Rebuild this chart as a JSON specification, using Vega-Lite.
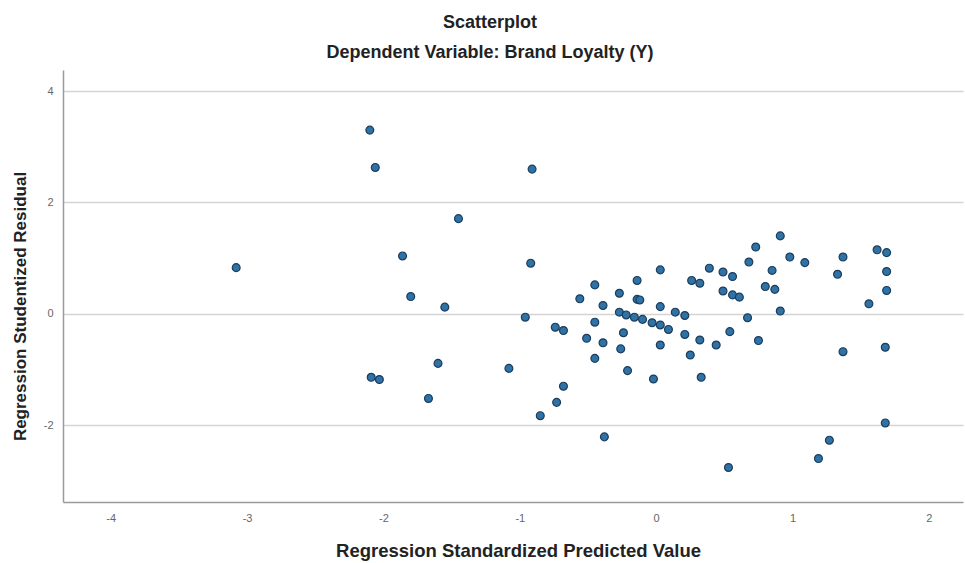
{
  "$schema": "https://vega.github.io/schema/vega-lite/v6.json",
  "autosize": "none",
  "width": 900,
  "height": 432,
  "padding": {"left": 63, "top": 70, "right": 2, "bottom": 61},
  "background": "white",
  "title": {
    "text": "Scatterplot",
    "subtitle": "Dependent Variable: Brand Loyalty (Y)",
    "anchor": "middle",
    "dx": -23,
    "offset": 8,
    "font": "Liberation Sans",
    "fontSize": 18,
    "fontWeight": "bold",
    "color": "#222222",
    "subtitleFont": "Liberation Sans",
    "subtitleFontSize": 18,
    "subtitleFontWeight": "bold",
    "subtitleColor": "#222222",
    "subtitlePadding": 12
  },
  "data": {"values": [
    {"x": -3.08, "y": 0.83}, {"x": -2.10, "y": 3.30}, {"x": -2.06, "y": 2.63}, {"x": -0.91, "y": 2.60},
    {"x": -1.45, "y": 1.71}, {"x": -1.86, "y": 1.04}, {"x": -0.92, "y": 0.91}, {"x": -1.80, "y": 0.31},
    {"x": -1.55, "y": 0.12}, {"x": -0.96, "y": -0.06}, {"x": -1.60, "y": -0.89}, {"x": -1.08, "y": -0.98},
    {"x": -2.09, "y": -1.14}, {"x": -2.03, "y": -1.18}, {"x": -1.67, "y": -1.52}, {"x": -0.74, "y": -0.24},
    {"x": -0.68, "y": -0.30}, {"x": -0.68, "y": -1.30}, {"x": -0.73, "y": -1.59}, {"x": -0.85, "y": -1.83},
    {"x": -0.38, "y": -2.21}, {"x": -0.56, "y": 0.27}, {"x": -0.45, "y": 0.52}, {"x": -0.14, "y": 0.60},
    {"x": -0.27, "y": 0.37}, {"x": -0.14, "y": 0.26}, {"x": -0.12, "y": 0.25}, {"x": -0.39, "y": 0.15},
    {"x": 0.03, "y": 0.79}, {"x": 0.03, "y": 0.13}, {"x": -0.27, "y": 0.03}, {"x": -0.22, "y": -0.02},
    {"x": -0.16, "y": -0.06}, {"x": -0.10, "y": -0.10}, {"x": -0.03, "y": -0.16}, {"x": 0.03, "y": -0.20},
    {"x": 0.09, "y": -0.28}, {"x": -0.45, "y": -0.15}, {"x": -0.51, "y": -0.44}, {"x": -0.24, "y": -0.34},
    {"x": -0.39, "y": -0.52}, {"x": 0.03, "y": -0.56}, {"x": -0.26, "y": -0.63}, {"x": -0.45, "y": -0.80},
    {"x": -0.21, "y": -1.02}, {"x": -0.02, "y": -1.17}, {"x": 0.26, "y": 0.60}, {"x": 0.32, "y": 0.55},
    {"x": 0.39, "y": 0.82}, {"x": 0.49, "y": 0.75}, {"x": 0.56, "y": 0.67}, {"x": 0.49, "y": 0.41},
    {"x": 0.56, "y": 0.34}, {"x": 0.61, "y": 0.30}, {"x": 0.68, "y": 0.93}, {"x": 0.73, "y": 1.20},
    {"x": 0.91, "y": 1.40}, {"x": 0.98, "y": 1.02}, {"x": 1.09, "y": 0.92}, {"x": 0.85, "y": 0.78},
    {"x": 0.80, "y": 0.49}, {"x": 0.87, "y": 0.44}, {"x": 1.33, "y": 0.71}, {"x": 1.37, "y": 1.02},
    {"x": 1.62, "y": 1.15}, {"x": 1.69, "y": 1.10}, {"x": 1.69, "y": 0.76}, {"x": 1.69, "y": 0.42},
    {"x": 1.56, "y": 0.18}, {"x": 0.14, "y": 0.03}, {"x": 0.21, "y": -0.03}, {"x": 0.91, "y": 0.05},
    {"x": 0.67, "y": -0.07}, {"x": 0.21, "y": -0.37}, {"x": 0.32, "y": -0.47}, {"x": 0.54, "y": -0.32},
    {"x": 0.44, "y": -0.56}, {"x": 0.75, "y": -0.48}, {"x": 0.25, "y": -0.74}, {"x": 0.33, "y": -1.14},
    {"x": 1.37, "y": -0.68}, {"x": 1.68, "y": -0.60}, {"x": 1.68, "y": -1.96}, {"x": 1.27, "y": -2.27},
    {"x": 1.19, "y": -2.60}, {"x": 0.53, "y": -2.76}
  ]},
  "mark": {"type": "point", "filled": true, "shape": "circle", "size": 62, "fill": "#2f72a5", "stroke": "#1d3d5c", "strokeWidth": 1.2, "opacity": 1, "fillOpacity": 1},
  "encoding": {
    "x": {
      "field": "x", "type": "quantitative",
      "scale": {"domain": [-4.35, 2.25], "nice": false, "zero": false},
      "axis": {
        "title": "Regression Standardized Predicted Value",
        "values": [-4, -3, -2, -1, 0, 1, 2],
        "labelExpr": "toString(datum.value)",
        "grid": false,
        "ticks": false,
        "domainColor": "#9a9a9a",
        "domainWidth": 1.5,
        "labelColor": "#666666",
        "labelFont": "Liberation Sans",
        "labelFontSize": 11,
        "labelPadding": 10,
        "titleFont": "Liberation Sans",
        "titleFontSize": 18.5,
        "titleFontWeight": "bold",
        "titleColor": "#222222",
        "titleX": 455,
        "titleY": 48,
        "titleBaseline": "middle"
      }
    },
    "y": {
      "field": "y", "type": "quantitative",
      "scale": {"domain": [-3.38, 4.38], "nice": false, "zero": false},
      "axis": {
        "title": "Regression Studentized Residual",
        "values": [-2, 0, 2, 4],
        "labelExpr": "toString(datum.value)",
        "grid": true,
        "gridColor": "#d4d4d4",
        "gridWidth": 1.5,
        "ticks": false,
        "domainColor": "#9a9a9a",
        "domainWidth": 1.5,
        "labelColor": "#666666",
        "labelFont": "Liberation Sans",
        "labelFontSize": 11,
        "labelPadding": 10,
        "titleFont": "Liberation Sans",
        "titleFontSize": 17,
        "titleFontWeight": "bold",
        "titleColor": "#222222",
        "titleAngle": 270,
        "titleX": -43,
        "titleY": 236,
        "titleAlign": "center",
        "titleBaseline": "middle"
      }
    }
  },
  "config": {"view": {"stroke": null}}
}
